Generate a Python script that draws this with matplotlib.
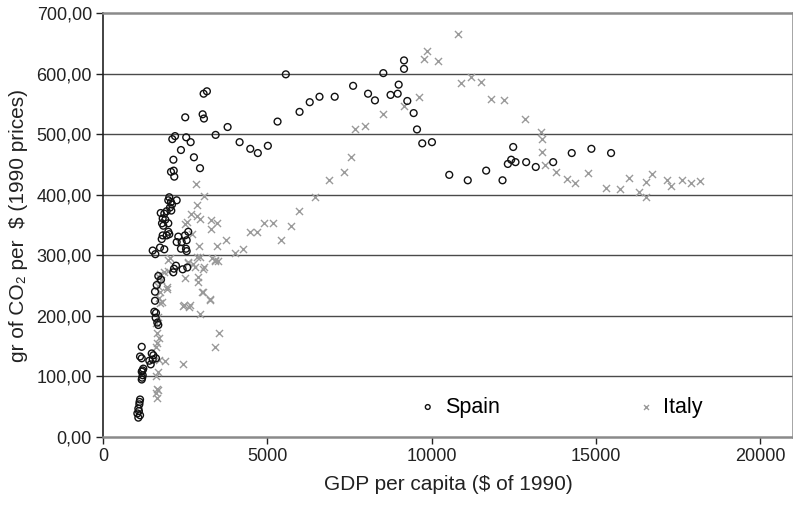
import matplotlib
matplotlib.use("Agg")
import matplotlib.pyplot as plt
from matplotlib.ticker import FuncFormatter

plt.rcParams['font.family'] = ['Liberation Sans', 'DejaVu Sans']

spain_x = [1125, 1104, 1073, 1043, 1073, 1125, 1090, 1110,
           1225, 1176, 1206, 1176, 1200, 1190,
           1176, 1480, 1125, 1176, 1407, 1510, 1610, 1450, 1530,
           1560, 1610, 1650, 1681, 1580, 1600,
           1580, 1632, 1763, 1681, 1590, 1510, 1733, 1863,
           2137, 2219, 2158, 2422, 2562,
           2370, 2523, 2544, 2240, 2392, 2544, 2492, 2593, 2289,
           1985, 2015, 1814, 1935, 1784,
           1814, 1894, 1793, 1985, 1833,
           1754, 1863, 1935, 2076,
           2015, 1985, 2067, 2240, 2097, 2036,
           2067, 2150, 2167, 2950, 2140, 2765, 2370, 2665, 2530, 2190, 2107,
           3425, 3790, 2500, 3030, 3070, 3060, 3160, 4155, 4480, 4710, 5015,
           5310, 5562, 5980, 6290, 6587, 7050, 7610, 8065, 8275, 8530, 8750,
           8967, 8997, 9160, 9160, 9260, 9453, 9555, 9715, 10010, 10537, 11100,
           11660, 12158, 12483, 12422, 12320, 12553, 12878, 13170, 13700, 14265,
           14863, 15462]
spain_y = [62, 54, 47, 39, 32, 36, 43, 58,
           113, 108, 102, 95, 110, 98,
           149, 138, 133, 130, 126, 128, 130, 120, 135,
           207, 205, 189, 185, 225, 197,
           240, 251, 260, 266, 302, 308, 313, 310,
           272, 283, 278, 277, 280,
           311, 311, 307, 322, 322, 325, 333, 339, 331,
           339, 335, 333, 333, 327,
           361, 359, 353, 353, 349,
           370, 369, 373, 374,
           396, 391, 388, 391, 384, 379,
           438, 440, 430, 444, 458, 462, 474, 487, 495, 497, 492,
           499, 512, 528, 533, 526, 567, 571, 487, 476, 469, 481,
           521, 599, 537, 553, 562, 562, 580, 567, 556, 601, 565,
           567, 582, 622, 608, 555, 535, 508, 485, 487, 433, 424,
           440, 424, 479, 458, 451, 454, 454, 446, 454, 469,
           476, 469]

italy_x = [1650, 1620, 1680, 1640, 1620, 1680, 1700, 1600, 1650, 1700, 1640, 1620, 1680,
           1884, 2422, 3404, 3535,
           1733, 2441, 2623, 2948, 3252, 3000, 1784, 1955, 1935,
           1700, 1720, 1680, 1750, 1700, 1730,
           2492, 2897, 2897, 3050, 2796, 2593, 3303, 3404, 3505, 2948, 2866,
           2036, 1854, 1985, 1985,
           4012, 4265, 3740, 3474, 2927,
           5430, 5714, 5978, 6444, 6870, 7335, 7558, 7670, 7985, 8520, 9150,
           9605, 9757, 9870, 10203, 10790, 10880, 11185, 11510, 11803, 12210,
           12857, 13322, 13353, 13353, 13455, 13800, 14125, 14356, 14772, 15298,
           15735, 15997, 16322, 16525, 16525, 16697, 17163, 17274, 17620, 17903, 18155,
           2817, 3080, 2866, 2665, 2848, 2940, 3283, 3474, 3283, 2492, 2562, 2705,
           4468, 4700, 4894, 5158, 3404, 3080, 3030, 3243, 2462, 2644, 2593, 2745]
italy_y = [64, 72, 78, 80, 100, 108, 127, 149, 155, 163, 171, 188, 199,
           125, 120, 149, 172,
           221, 216, 215, 203, 226, 240, 223, 245, 248,
           230, 240, 250, 260, 265, 270,
           262, 265, 256, 277, 281, 287, 295, 292, 291, 297, 298,
           295, 273, 275, 293,
           304, 311, 325, 315, 315,
           326, 348, 373, 396, 425, 437, 462, 509, 514, 534, 547,
           562, 625, 638, 621, 666, 584, 594, 586, 559, 556,
           525, 504, 492, 471, 450, 437, 426, 419, 436, 412,
           410, 428, 405, 396, 421, 434, 424, 414, 425, 419, 423,
           418, 398, 384, 368, 365, 360, 358, 354, 343, 352, 355, 336,
           338, 338, 353, 353, 291, 280, 240, 228, 218, 218, 289, 286]

y_ticks = [0, 100, 200, 300, 400, 500, 600, 700]
x_ticks = [0, 5000, 10000, 15000, 20000]

fig = plt.figure(figsize=(7.93, 5.07), dpi=100)
ax = fig.add_axes([0.130, 0.138, 0.870, 0.836])

ax.scatter(italy_x, italy_y, marker='x', s=26, color='#9a9a9a', linewidths=1.0,
           label='Italy', zorder=3)
ax.scatter(spain_x, spain_y, marker='o', s=24, facecolors='none', edgecolors='#111111',
           linewidths=1.0, label='Spain', zorder=4)

ax.set_xlim(0, 21000)
ax.set_ylim(0, 700)
ax.set_xticks(x_ticks)
ax.set_yticks(y_ticks)
ax.yaxis.set_major_formatter(FuncFormatter(lambda v, p: f"{v:.2f}".replace('.', ',')))
ax.tick_params(axis='both', direction='out', length=5, width=1, labelsize=13,
               colors='#222222', pad=3)
for yv in y_ticks[1:-1]:
    ax.axhline(yv, color='#4a4a4a', linewidth=1.0, zorder=1)

ax.spines['left'].set_color('#222222')
ax.spines['left'].set_linewidth(1.2)
for s in ['top', 'right', 'bottom']:
    ax.spines[s].set_color('#8a8a8a')
    ax.spines[s].set_linewidth(1.8)

ax.set_xlabel('GDP per capita ($ of 1990)', fontsize=15, color='#222222', labelpad=7)
ax.set_ylabel('gr of CO\u2082 per  $ (1990 prices)', fontsize=15, color='#222222', labelpad=6)

handles, labels = ax.get_legend_handles_labels()
leg = ax.legend([handles[1], handles[0]], [labels[1], labels[0]], ncol=2, frameon=False,
                loc='lower left', bbox_to_anchor=(0.43, 0.0), fontsize=15.5,
                markerscale=0.7, handlelength=0.8, handletextpad=0.4, columnspacing=6.4)

fig.savefig('out.png', dpi=100)
